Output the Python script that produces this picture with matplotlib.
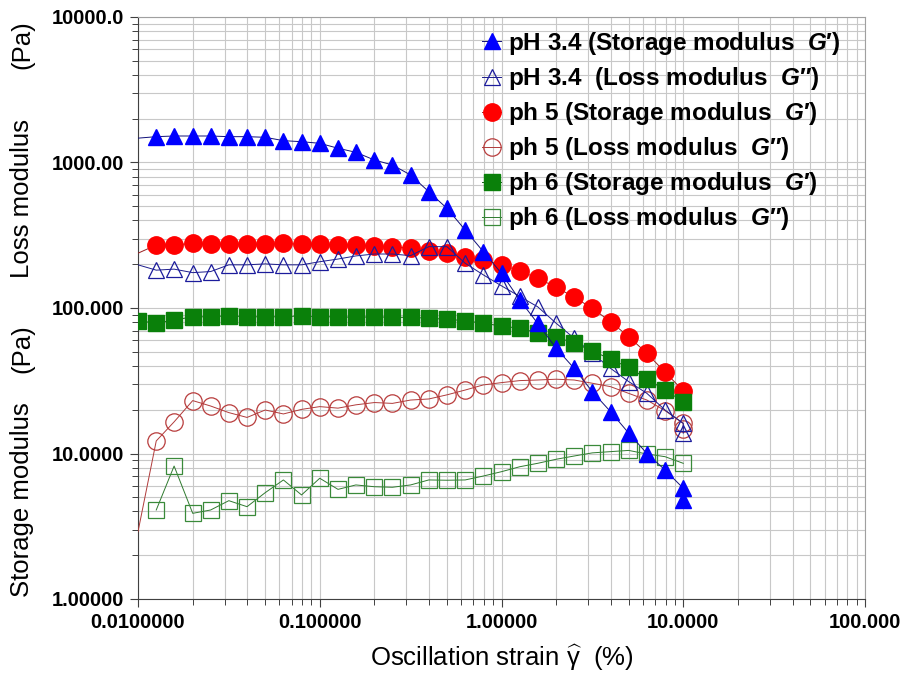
import numpy as np
import matplotlib
matplotlib.use("Agg")
import matplotlib.pyplot as plt
from matplotlib.ticker import FixedLocator, LogLocator, NullFormatter

plt.rcParams['font.family'] = ['Liberation Sans', 'DejaVu Sans']
plt.rcParams['mathtext.fontset'] = 'custom'
plt.rcParams['mathtext.rm'] = 'Liberation Sans'
plt.rcParams['mathtext.it'] = 'Liberation Sans:italic:bold'
plt.rcParams['mathtext.bf'] = 'Liberation Sans:bold'

# --- data (strain in %, moduli in Pa) ---
# first point 0.01 only carries the line start, last 10.0 is a repeated reading
strain = [0.01, 0.0126, 0.0158, 0.0200, 0.0251, 0.0316, 0.0398, 0.0501, 0.0631,
          0.0794, 0.100, 0.126, 0.158, 0.200, 0.251, 0.316, 0.398, 0.501, 0.631,
          0.794, 1.00, 1.26, 1.58, 2.00, 2.51, 3.16, 3.98, 5.01, 6.31, 7.94, 10.0, 10.0]

ph34_storage = [1470, 1505, 1521, 1521, 1521, 1505, 1505, 1490, 1413, 1390, 1355,
                1253, 1175, 1040, 962, 821, 630, 484, 344, 244, 173, 113.5, 78.5,
                52.8, 38.5, 26.6, 19.4, 13.8, 10.0, 7.7, 5.77, 4.79]
ph34_loss = [198, 182, 185, 175, 178, 198, 198, 201, 198, 198, 208, 217, 228, 235,
             235, 229, 264, 264, 203, 169, 142, 120, 102, 78.5, 62, 48.8, 38.5,
             31.2, 25.9, 19.9, 16.1, 13.8]
ph5_storage = [238, 271, 271, 278, 274, 274, 274, 274, 278, 274, 274, 271, 271, 267,
               264, 257, 246, 240, 225, 214, 198, 180, 160, 139, 118.5, 99.6, 80.5,
               63.5, 48.8, 36.2, 27.0, np.nan]
ph5_loss = [2.9, 12.2, 16.5, 23.1, 21.2, 19.1, 17.7, 19.9, 18.7, 20.1, 21.0, 20.5,
            21.6, 22.4, 22.1, 23.3, 23.7, 25.3, 27.3, 29.6, 30.7, 31.7, 32.0, 32.4,
            32.0, 30.4, 28.8, 25.9, 23.3, 19.7, 16.1, 14.8]
ph6_storage = [82, 78.5, 82.7, 87, 87, 88.5, 87, 87, 87, 88.5, 87, 87, 86.3, 87,
               86.3, 86.3, 85, 83.6, 81.8, 78.5, 75.2, 72.5, 67.6, 63.5, 57.2, 50.9,
               44.4, 39.1, 32.5, 27.3, 22.7, np.nan]
ph6_loss = [np.nan, 4.09, 8.2, 3.88, 4.09, 4.74, 4.31, 5.38, 6.58, 5.19, 6.76, 5.67,
            6.08, 5.91, 5.86, 6.08, 6.58, 6.55, 6.58, 7.0, 7.5, 8.11, 8.56, 9.13,
            9.61, 10.1, 10.3, 10.5, 9.92, 9.51, 8.56, np.nan]

labels = ["pH 3.4 (Storage modulus  $G$′)", "pH 3.4  (Loss modulus  $G$″)",
          "ph 5 (Storage modulus  $G$′)", "ph 5 (Loss modulus  $G$″)",
          "ph 6 (Storage modulus  $G$′)", "ph 6 (Loss modulus  $G$″)"]
xticks = [0.01, 0.1, 1, 10, 100]
xticklabels = ["0.0100000", "0.100000", "1.00000", "10.0000", "100.000"]
yticks = [1, 10, 100, 1000, 10000]
yticklabels = ["1.00000", "10.0000", "100.000", "1000.00", "10000.0"]

W, H = 905, 673
fig = plt.figure(figsize=(W / 100, H / 100), dpi=100)
ax = fig.add_axes([138 / W, 1 - 599 / H, (865 - 138) / W, (599 - 17) / H])
ax.set_xscale('log')
ax.set_yscale('log')

skip0 = slice(1, None)
h = []
h += ax.plot(strain, ph34_storage, color='#10107a', lw=0.7, marker='^', ms=12,
             mfc='#0000ff', mec='#0000ff', markevery=skip0, zorder=8)
h += ax.plot(strain, ph34_loss, color='#1c1c8c', lw=0.7, marker='^', ms=12,
             mfc='none', mec='#1c1c9c', mew=0.9, markevery=skip0, zorder=6)
h += ax.plot(strain, ph5_storage, color='#9a2020', lw=0.7, marker='o', ms=12.5,
             mfc='#ff0000', mec='#ff0000', markevery=skip0, zorder=5)
h += ax.plot(strain, ph5_loss, color='#b03a3a', lw=0.7, marker='o', ms=12.5,
             mfc='none', mec='#b83c3c', mew=0.9, markevery=skip0, zorder=4)
h += ax.plot(strain, ph6_storage, color='#1a5a1a', lw=0.7, marker='s', ms=11,
             mfc='#0a800a', mec='#0a800a', zorder=7)
h += ax.plot(strain, ph6_loss, color='#2e7a2e', lw=0.7, marker='s', ms=11,
             mfc='none', mec='#3a8a3a', mew=0.9, zorder=3)

ax.set_xlim(0.01, 100)
ax.set_ylim(1, 10000)
ax.xaxis.set_major_locator(FixedLocator(xticks))
ax.xaxis.set_minor_locator(LogLocator(base=10, subs=np.arange(2, 10)))
ax.xaxis.set_minor_formatter(NullFormatter())
ax.set_xticklabels(xticklabels, fontsize=14.5, fontweight='bold')
ax.yaxis.set_major_locator(FixedLocator(yticks))
ax.yaxis.set_minor_locator(LogLocator(base=10, subs=np.arange(2, 10)))
ax.yaxis.set_minor_formatter(NullFormatter())
ax.set_yticklabels(yticklabels, fontsize=14.5, fontweight='bold')

ax.grid(which='both', color='#c8c8c8', lw=0.8)
ax.set_axisbelow(True)
ax.tick_params(which='major', direction='out', length=6, width=0.8, color='#404040', pad=4)
ax.tick_params(which='minor', direction='out', length=4, width=0.7, color='#404040')
for s in ['left', 'bottom']:
    ax.spines[s].set_color('#404040')
for s in ['top', 'right']:
    ax.spines[s].set_color('#a0a0a0')

ax.set_xlabel("Oscillation strain $\\widehat{\\mathrm{\\gamma}}$  (%)", fontsize=18.5, labelpad=8)

# y axis title is split into four pieces along the left edge
for txt, yc in [("(Pa)", 45), ("Loss modulus", 198), ("(Pa)", 349), ("Storage modulus", 500)]:
    fig.text(22 / W, 1 - yc / H, txt, rotation=90, ha='center', va='center', fontsize=18.5)

ax.legend(h, labels, loc='upper left', bbox_to_anchor=(482 / W, 1 - 30 / H),
          bbox_transform=fig.transFigure, frameon=False, borderpad=0,
          borderaxespad=0, handlelength=0.8, handletextpad=0.25, labelspacing=0.33,
          prop={'size': 17.5, 'weight': 'bold'})

fig.savefig('out.png', dpi=100)
